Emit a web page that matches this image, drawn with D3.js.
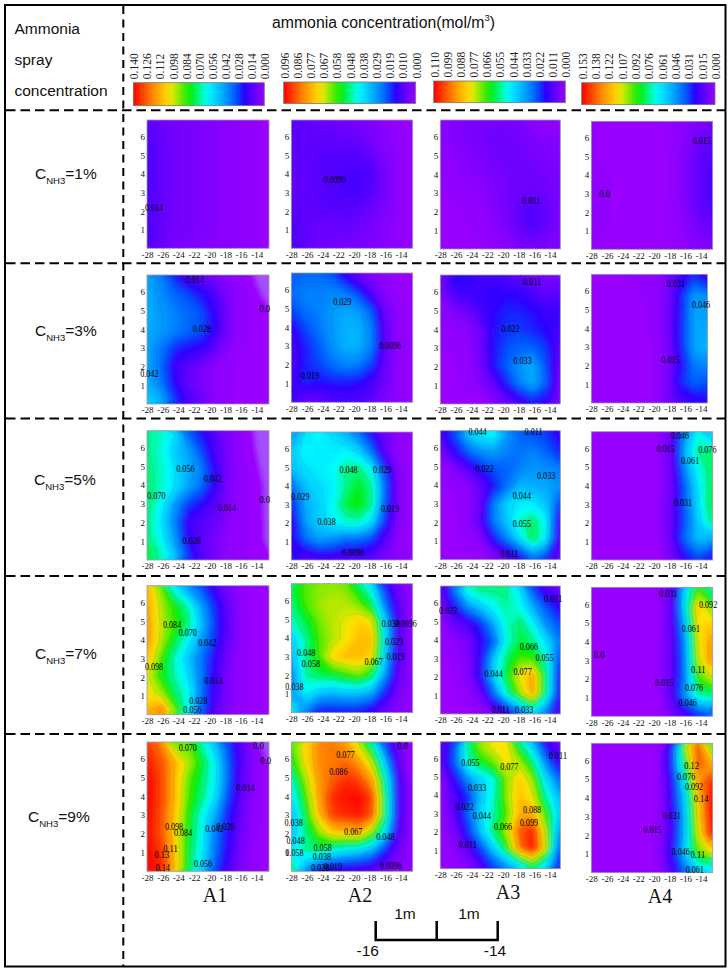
<!DOCTYPE html>
<html>
<head>
<meta charset="utf-8">
<style>
  body { margin: 0; background: #fff; }
  svg { display: block; }
  .axis text { font-family: "Liberation Serif", serif; font-size: 9px; fill: #111; }
  .axis path, .axis line { display: none; }
  .lbl { font-family: "Liberation Serif", serif; font-size: 9.5px; fill: #000; }
  .sans { font-family: "Liberation Sans", sans-serif; fill: #111; }
</style>
<script src="https://cdn.jsdelivr.net/npm/d3@7"></script>
</head>
<body>
<div id="chart"></div>
<script>
//DATA//
const columns = ["A1", "A2", "A3", "A4"];
const concentrations = ["1", "3", "5", "7", "9"];
const xTicks = [-28, -26, -24, -22, -20, -18, -16, -14];
const yTicks = [1, 2, 3, 4, 5, 6];

//legend tick labels, high to low
const legendA1 = ["0.140", "0.126", "0.112", "0.098", "0.084", "0.070", "0.056", "0.042", "0.028", "0.014", "0.000"];
const legendA2 = ["0.096", "0.086", "0.077", "0.067", "0.058", "0.048", "0.038", "0.029", "0.019", "0.010", "0.000"];
const legendA3 = ["0.110", "0.099", "0.088", "0.077", "0.066", "0.055", "0.044", "0.033", "0.022", "0.011", "0.000"];
const legendA4 = ["0.153", "0.138", "0.122", "0.107", "0.092", "0.076", "0.061", "0.046", "0.031", "0.015", "0.000"];

//concentration: 8 rows (top to bottom) x 10 columns (left to right)
const c1A1 = [
  .013, .010, .008, .007, .006, .005, .004, .003, .002, .001,
  .014, .010, .008, .007, .006, .005, .004, .003, .002, .001,
  .015, .011, .008, .007, .006, .005, .004, .003, .002, .001,
  .015, .011, .008, .007, .006, .005, .004, .003, .002, .001,
  .015, .011, .008, .007, .006, .005, .004, .003, .002, .001,
  .015, .011, .008, .007, .006, .005, .004, .003, .002, .001,
  .015, .011, .008, .007, .006, .005, .004, .003, .002, .001,
  .014, .010, .007, .006, .005, .004, .004, .003, .002, .001];
const c1A2 = [
  .009, .008, .007, .007, .006, .005, .004, .002, .001, .001,
  .009, .008, .008, .008, .008, .007, .005, .003, .002, .001,
  .009, .008, .009, .009, .010, .010, .008, .004, .002, .001,
  .008, .008, .009, .010, .011, .011, .010, .005, .002, .001,
  .008, .008, .009, .010, .011, .011, .009, .005, .002, .001,
  .009, .008, .008, .009, .009, .008, .006, .004, .002, .001,
  .010, .008, .007, .007, .007, .006, .005, .003, .002, .001,
  .010, .008, .006, .006, .005, .005, .004, .003, .002, .001];
const c1A3 = [
  .003, .004, .005, .006, .006, .006, .005, .003, .002, .002,
  .003, .004, .005, .006, .007, .007, .006, .005, .004, .003,
  .002, .003, .004, .005, .006, .007, .007, .006, .005, .004,
  .002, .002, .003, .004, .005, .006, .007, .007, .006, .005,
  .001, .002, .002, .003, .004, .006, .007, .008, .007, .005,
  .001, .001, .002, .002, .004, .006, .009, .012, .009, .005,
  .001, .001, .001, .002, .003, .005, .008, .011, .008, .005,
  .001, .001, .001, .001, .002, .003, .005, .006, .005, .004];
const c1A4 = [
  .002, .001, .001, .001, .001, .001, .002, .004, .007, .009,
  .002, .001, .001, .001, .001, .001, .002, .005, .010, .012,
  .002, .001, .001, .001, .001, .001, .002, .006, .012, .015,
  .003, .002, .001, .001, .001, .001, .002, .006, .012, .016,
  .003, .002, .001, .001, .001, .001, .002, .006, .012, .016,
  .003, .002, .001, .001, .001, .001, .002, .005, .011, .015,
  .002, .002, .001, .001, .001, .001, .002, .004, .008, .010,
  .002, .001, .001, .001, .001, .001, .002, .003, .005, .006];

const c3A1 = [
  .044, .038, .026, .016, .012, .008, .004, .002, .0005, -.003,
  .046, .040, .034, .030, .024, .016, .006, .002, .001, -.0005,
  .046, .042, .038, .034, .030, .020, .007, .002, .001, .001,
  .046, .042, .038, .034, .030, .020, .007, .002, .001, .001,
  .044, .036, .026, .022, .020, .012, .004, .002, .001, .001,
  .044, .034, .018, .012, .008, .004, .002, .001, .001, .001,
  .046, .036, .020, .011, .006, .003, .002, .001, .001, .001,
  .052, .046, .028, .016, .010, .004, .002, .001, .001, .001];
const c3A2 = [
  .022, .024, .024, .022, .014, .008, .004, .002, .001, .001,
  .024, .026, .026, .027, .026, .020, .010, .003, .001, .001,
  .020, .024, .026, .029, .031, .030, .022, .006, .002, .001,
  .014, .020, .025, .029, .032, .032, .026, .008, .002, .001,
  .012, .017, .022, .028, .032, .032, .026, .008, .002, .001,
  .010, .017, .020, .024, .027, .026, .020, .007, .002, .001,
  .012, .018, .016, .017, .017, .016, .012, .006, .002, .001,
  .014, .007, .008, .010, .011, .010, .008, .004, .002, .001];
const c3A3 = [
  .008, .017, .016, .014, .014, .012, .010, .007, .005, .006,
  .004, .012, .014, .015, .016, .017, .016, .013, .010, .011,
  .002, .004, .006, .012, .017, .020, .020, .018, .015, .015,
  .002, .002, .003, .007, .018, .021, .022, .020, .017, .013,
  .001, .002, .002, .007, .018, .024, .026, .026, .022, .010,
  .001, .001, .002, .006, .018, .026, .033, .036, .024, .008,
  .001, .001, .002, .004, .010, .020, .030, .036, .026, .006,
  .001, .001, .001, .001, .004, .008, .014, .020, .017, .005];
const c3A4 = [
  .001, .001, .001, .002, .002, .003, .008, .020, .030, .022,
  .001, .001, .001, .001, .002, .003, .008, .026, .046, .044,
  .001, .001, .001, .001, .001, .003, .008, .027, .048, .048,
  .001, .001, .001, .001, .001, .003, .008, .028, .048, .050,
  .001, .001, .001, .001, .001, .002, .007, .027, .048, .052,
  .001, .001, .001, .001, .001, .002, .006, .023, .040, .044,
  .001, .001, .001, .001, .001, .002, .008, .028, .036, .034,
  .001, .001, .001, .001, .001, .002, .008, .018, .022, .024];

const c5A1 = [
  .070, .066, .056, .034, .024, .014, .006, .002, .0003, -.004,
  .070, .064, .052, .044, .030, .016, .006, .002, .0006, -.002,
  .072, .066, .056, .046, .038, .020, .007, .002, .001, -.001,
  .072, .066, .056, .044, .034, .020, .006, .002, .001, -.0003,
  .072, .060, .042, .028, .022, .014, .005, .002, .001, -.0003,
  .070, .056, .038, .018, .014, .010, .004, .002, .001, -.0002,
  .072, .060, .042, .020, .012, .007, .003, .002, .001, -.0002,
  .076, .068, .050, .028, .014, .007, .003, .002, .001, .0005];
const c5A2 = [
  .030, .040, .042, .038, .034, .026, .016, .006, .002, .001,
  .036, .042, .040, .040, .042, .038, .026, .008, .002, .001,
  .034, .038, .040, .042, .048, .050, .042, .020, .003, .001,
  .024, .034, .038, .040, .048, .054, .048, .024, .004, .001,
  .018, .032, .036, .042, .052, .056, .048, .022, .004, .001,
  .014, .030, .036, .041, .045, .046, .038, .018, .003, .001,
  .014, .024, .030, .028, .024, .024, .020, .010, .002, .001,
  .016, .010, .012, .012, .010, .010, .009, .005, .002, .001];
const c5A3 = [
  .014, .024, .040, .046, .048, .034, .026, .024, .022, .016,
  .006, .016, .026, .032, .034, .030, .028, .030, .026, .020,
  .002, .004, .010, .018, .024, .026, .030, .033, .032, .030,
  .001, .002, .003, .008, .018, .028, .038, .036, .036, .032,
  .001, .001, .002, .008, .030, .042, .046, .046, .040, .024,
  .001, .001, .002, .010, .030, .040, .052, .058, .048, .014,
  .001, .001, .002, .004, .018, .030, .044, .060, .046, .012,
  .001, .001, .001, .001, .004, .010, .018, .030, .024, .008];
const c5A4 = [
  .001, .001, .001, .001, .001, .002, .012, .046, .070, .056,
  .001, .001, .001, .001, .001, .002, .012, .052, .076, .080,
  .001, .001, .001, .001, .001, .002, .010, .044, .068, .080,
  .001, .001, .001, .001, .001, .002, .010, .036, .062, .082,
  .001, .001, .001, .001, .001, .002, .012, .036, .060, .084,
  .001, .001, .001, .001, .001, .002, .012, .034, .056, .078,
  .001, .001, .001, .001, .001, .002, .012, .038, .054, .050,
  .001, .001, .001, .001, .001, .001, .008, .024, .034, .026];

const c7A1 = [
  .112, .088, .062, .044, .032, .018, .008, .002, .001, .001,
  .112, .094, .082, .068, .044, .026, .010, .002, .001, .001,
  .114, .096, .084, .072, .050, .028, .012, .003, .001, .001,
  .114, .094, .076, .060, .042, .026, .010, .003, .001, .001,
  .108, .084, .066, .050, .036, .020, .008, .002, .001, .001,
  .098, .080, .068, .056, .036, .018, .006, .002, .001, .001,
  .102, .094, .074, .062, .036, .016, .006, .002, .001, .001,
  .112, .122, .090, .062, .034, .014, .005, .002, .001, .001];
const c7A2 = [
  .052, .060, .063, .064, .062, .052, .040, .018, .006, .002,
  .050, .059, .064, .066, .066, .062, .052, .026, .008, .002,
  .046, .052, .061, .066, .068, .073, .070, .038, .010, .002,
  .036, .048, .059, .065, .069, .075, .075, .040, .010, .002,
  .034, .048, .058, .071, .075, .075, .071, .036, .010, .002,
  .028, .048, .052, .054, .058, .062, .054, .030, .008, .002,
  .030, .042, .036, .034, .036, .036, .032, .018, .005, .002,
  .040, .028, .018, .018, .018, .018, .014, .008, .003, .002];
const c7A3 = [
  .010, .030, .052, .056, .056, .056, .044, .024, .012, .008,
  .006, .018, .032, .040, .048, .054, .050, .036, .024, .016,
  .002, .008, .012, .020, .036, .052, .058, .048, .032, .024,
  .001, .003, .005, .016, .026, .050, .060, .056, .044, .030,
  .001, .002, .004, .016, .040, .058, .068, .066, .052, .024,
  .001, .001, .004, .016, .042, .062, .080, .090, .058, .018,
  .001, .001, .002, .008, .028, .052, .072, .090, .056, .018,
  .001, .001, .001, .002, .008, .018, .032, .048, .032, .012];
const c7A4 = [
  .001, .001, .001, .001, .001, .002, .012, .060, .096, .076,
  .001, .001, .001, .001, .001, .002, .012, .062, .120, .100,
  .001, .001, .001, .001, .001, .002, .012, .052, .112, .118,
  .001, .001, .001, .001, .001, .002, .012, .044, .108, .126,
  .001, .001, .001, .001, .001, .002, .012, .042, .104, .128,
  .001, .001, .001, .001, .001, .002, .012, .042, .092, .106,
  .001, .001, .001, .001, .001, .002, .014, .046, .074, .078,
  .001, .001, .001, .001, .001, .001, .008, .020, .032, .038];

const c9A1 = [
  .132, .122, .090, .090, .070, .052, .030, .014, .003, -.002,
  .136, .128, .112, .095, .080, .060, .034, .014, .004, .0005,
  .140, .130, .110, .088, .075, .060, .034, .012, .003, .001,
  .140, .130, .110, .086, .072, .056, .030, .012, .003, .001,
  .140, .128, .108, .082, .064, .046, .024, .010, .003, .001,
  .138, .128, .106, .080, .062, .038, .022, .008, .002, .001,
  .140, .132, .108, .078, .060, .036, .020, .007, .002, .001,
  .140, .136, .110, .078, .056, .032, .016, .006, .002, .001];
const c9A2 = [
  .060, .072, .082, .084, .080, .068, .050, .022, .006, .001,
  .056, .070, .082, .084, .086, .080, .066, .036, .008, .001,
  .046, .064, .080, .087, .092, .090, .080, .048, .012, .002,
  .040, .058, .079, .092, .095, .096, .090, .052, .012, .002,
  .034, .054, .075, .090, .092, .094, .088, .052, .012, .002,
  .034, .050, .062, .072, .074, .076, .062, .040, .010, .002,
  .040, .048, .050, .044, .040, .038, .032, .018, .006, .002,
  .050, .030, .020, .014, .014, .012, .010, .006, .003, .002];
const c9A3 = [
  .010, .024, .056, .074, .080, .080, .058, .040, .018, .008,
  .010, .026, .052, .062, .070, .080, .074, .058, .030, .014,
  .004, .016, .032, .042, .050, .072, .084, .072, .044, .028,
  .002, .012, .020, .040, .052, .072, .086, .078, .054, .038,
  .002, .010, .026, .042, .054, .068, .088, .088, .066, .042,
  .001, .006, .020, .040, .058, .074, .100, .107, .074, .034,
  .001, .003, .010, .024, .042, .064, .096, .110, .078, .026,
  .001, .002, .004, .012, .024, .034, .046, .062, .046, .020];
const c9A4 = [
  .001, .001, .001, .001, .001, .002, .024, .100, .140, .096,
  .001, .001, .001, .001, .001, .002, .030, .084, .140, .126,
  .001, .001, .001, .001, .001, .002, .022, .066, .126, .148,
  .001, .001, .001, .001, .001, .002, .020, .058, .116, .153,
  .001, .001, .001, .001, .001, .002, .018, .054, .112, .153,
  .001, .001, .001, .001, .001, .002, .018, .054, .106, .150,
  .001, .001, .001, .001, .001, .003, .022, .058, .096, .112,
  .001, .001, .001, .001, .001, .002, .016, .040, .060, .064];

const gridCols = 10;
const gridRows = 8;

//contour labels on each map: text, x, y in map units
const notesC1 = [
  [["0.014", -27.1, 2.2]],
  [["0.0096", -22.5, 3.7]],
  [["0.011", -16.4, 2.6]],
  [["0.0", -26.3, 2.97], ["0.015", -13.9, 5.85]]];
const notesC3 = [
  [["0.014", -21.9, 6.63], ["0.028", -21, 4], ["0.0", -13, 5.1], ["0.042", -27.7, 1.62]],
  [["0.029", -21.5, 5.35], ["0.0096", -15.4, 3], ["0.019", -25.6, 1.4]],
  [["0.011", -16.3, 6.55], ["0.022", -19.05, 4], ["0.033", -17.5, 2.3]],
  [["0.031", -17.2, 6.37], ["0.046", -14, 5.27], ["0.015", -17.9, 2.3]]];
const notesC5 = [
  [["0.056", -23.1, 4.86], ["0.042", -19.6, 4.34], ["0.070", -26.8, 3.43], ["0.0", -13, 3.2], ["0.014", -17.8, 2.77], ["0.028", -22.3, 1.05]],
  [["0.048", -20.7, 4.87], ["0.029", -16.4, 4.89], ["0.029", -26.85, 3.4], ["0.019", -15.4, 2.77], ["0.038", -23.5, 2.07], ["0.0096", -20.1, .4]],
  [["0.044", -23.25, 6.86], ["0.011", -16.1, 6.82], ["0.022", -22.35, 4.84], ["0.033", -14.5, 4.48], ["0.044", -17.6, 3.4], ["0.055", -17.6, 1.93], ["0.011", -19.2, .3]],
  [["0.046", -16.7, 6.7], ["0.015", -18.5, 6], ["0.076", -13.2, 5.95], ["0.061", -15.4, 5.36], ["0.031", -16.3, 3.1]]];
const notesC7 = [
  [["0.084", -24.8, 4.82], ["0.070", -22.8, 4.36], ["0.042", -20.3, 3.85], ["0.098", -27.1, 2.57], ["0.014", -19.5, 1.82], ["0.028", -21.45, .75], ["0.056", -22.2, .27]],
  [["0.038", -15.3, 4.75], ["0.0096", -13.4, 4.75], ["0.029", -14.9, 3.78], ["0.048", -26.1, 3.2], ["0.058", -25.5, 2.6], ["0.067", -17.5, 2.73], ["0.019", -14.7, 3], ["0.038", -27.6, 1.4]],
  [["0.022", -27, 5.57], ["0.011", -13.6, 6.2], ["0.066", -16.7, 3.62], ["0.055", -14.7, 3.05], ["0.077", -17.5, 2.3], ["0.044", -21.2, 2.15], ["0.011", -20.3, .23], ["0.033", -17.3, .23]],
  [["0.031", -18.2, 6.54], ["0.092", -13.1, 5.95], ["0.061", -15.3, 4.68], ["0.0", -27, 3.3], ["0.11", -14.35, 2.48], ["0.015", -18.7, 1.77], ["0.076", -14.9, 1.5], ["0.046", -15.7, .75]]];
const notesC9 = [
  [["0.070", -22.8, 6.57], ["0.0", -13.8, 6.7], ["0.0", -12.85, 5.9], ["0.014", -15.45, 4.46], ["0.098", -24.55, 2.4], ["0.084", -23.4, 2.05], ["0.042", -19.4, 2.27], ["0.028", -18, 2.4], ["0.11", -25, 1.2], ["0.13", -26.1, .9], ["0.14", -26, .2], ["0.056", -20.85, .4]],
  [["0.077", -21.1, 6.2], ["0.086", -22, 5.3], ["0.0", -13.8, 6.7], ["0.038", -27.7, 2.57], ["0.048", -27.45, 1.65], ["0.058", -27.6, 1], ["0.067", -20.1, 2.1], ["0.048", -16, 1.85], ["0.058", -24, 1.27], ["0.038", -24.1, .77], ["0.028", -24.3, .18], ["0.019", -22.7, .25], ["0.0096", -15.3, .27]],
  [["0.011", -13, 6.13], ["0.055", -24.15, 5.75], ["0.077", -19.2, 5.55], ["0.033", -23.3, 4.38], ["0.022", -24.9, 3.38], ["0.044", -22.7, 2.87], ["0.088", -16.3, 3.2], ["0.099", -16.7, 2.47], ["0.066", -20, 2.27], ["0.011", -24.5, 1.3]],
  [["0.12", -15.2, 5.68], ["0.076", -15.9, 5.14], ["0.092", -14.9, 4.6], ["0.14", -14, 3.96], ["0.031", -17.75, 3.05], ["0.015", -20.2, 2.27], ["0.046", -16.6, 1.1], ["0.11", -14.4, .96], ["0.061", -14.8, .16]]];

//LAYOUT//
const width = 728;
const height = 971;

//map boxes as [left, top, right, bottom], one row per concentration
const boxes = [
  [[147, 120, 269, 248.3], [291.3, 120, 412.7, 248.3], [440.3, 120, 560.3, 249], [591.3, 121.3, 712.7, 249.3]],
  [[147, 275, 269, 404], [291.3, 273, 412.7, 402.3], [440.3, 275, 560.3, 404], [591.3, 274.3, 707.5, 403]],
  [[147, 430.7, 269, 560], [291.3, 432, 412.7, 560], [440.3, 430.7, 560.3, 559.7], [591.3, 431.7, 712.7, 560]],
  [[147, 585.7, 269, 714.7], [291.3, 583.7, 412.7, 712.7], [440.3, 586, 560.3, 714], [591.3, 587.3, 712.7, 716.3]],
  [[147, 742, 269, 871.3], [291.3, 742, 412.7, 871.3], [440.3, 741.7, 560.3, 868.7], [591.3, 743.3, 712.7, 872.7]]
];
const grids = [
  [c1A1, c1A2, c1A3, c1A4],
  [c3A1, c3A2, c3A3, c3A4],
  [c5A1, c5A2, c5A3, c5A4],
  [c7A1, c7A2, c7A3, c7A4],
  [c9A1, c9A2, c9A3, c9A4]
];
const notes = [notesC1, notesC3, notesC5, notesC7, notesC9];
const legends = [legendA1, legendA2, legendA3, legendA4];
const legendBoxes = [[133.3, 82.7, 264.3, 105.7], [283.7, 82, 415.7, 103.5], [433.7, 81, 565.3, 102.7], [581.7, 82.7, 715, 104.7]];

//rainbow used by every map, t=0 at the low end
const rainbow = d3.scaleLinear()
  .domain([0, .15, .21, .29, .435, .57, .72, .85, 1])
  .range(["#9900ff", "#2a00ff", "#0050ff", "#0095ff", "#00ffff", "#00ee00", "#ffe600", "#ff8800", "#ff0000"])
  .clamp(true);
const belowZero = "#a64dff";

const svg = d3.select("#chart")
  .append("svg")
  .attr("width", width)
  .attr("height", height);

const defs = svg.append("defs");
defs.append("filter").attr("id", "soft")
  .append("feGaussianBlur").attr("stdDeviation", 2.4);

//FRAME//
svg.append("rect")
  .attr("x", 5).attr("y", 5)
  .attr("width", 720.5).attr("height", 961.5)
  .attr("fill", "none").attr("stroke", "#000").attr("stroke-width", 2);

[110.3, 263.3, 418.5, 576, 734].forEach(function(y) {
  svg.append("line")
    .attr("x1", 6).attr("x2", 725).attr("y1", y).attr("y2", y)
    .attr("stroke", "#000").attr("stroke-width", 2)
    .attr("stroke-dasharray", "9.5,5");
});
svg.append("line")
  .attr("x1", 123.3).attr("x2", 123.3).attr("y1", 6).attr("y2", 966)
  .attr("stroke", "#000").attr("stroke-width", 2)
  .attr("stroke-dasharray", "8,5.5");

//LEFT COLUMN//
[["Ammonia", 34], ["spray", 65], ["concentration", 96]].forEach(function(d) {
  svg.append("text").attr("class", "sans")
    .attr("x", 14.5).attr("y", d[1])
    .attr("font-size", 15.5)
    .text(d[0]);
});

const rowLabelPos = [[35, 179.3], [35, 336], [34, 485], [35, 659.3], [28, 822.3]];
concentrations.forEach(function(c, i) {
  const t = svg.append("text").attr("class", "sans")
    .attr("x", rowLabelPos[i][0]).attr("y", rowLabelPos[i][1])
    .attr("font-size", 15.5);
  t.append("tspan").text("C");
  t.append("tspan").attr("font-size", 9.5).attr("dy", 4.5).text("NH3");
  t.append("tspan").attr("dy", -4.5).text("=" + c + "%");
});

//TITLE//
const title = svg.append("text").attr("class", "sans")
  .attr("x", 272).attr("y", 28)
  .attr("font-size", 15.8);
title.append("tspan").text("ammonia concentration(mol/m");
title.append("tspan").attr("font-size", 9.5).attr("dy", -7).text("3");
title.append("tspan").attr("dy", 7).text(")");

//LEGENDS//
legends.forEach(function(labels, i) {
  const b = legendBoxes[i];
  const id = "legend" + i;
  const grad = defs.append("linearGradient").attr("id", id);
  d3.range(0, 1.001, .05).forEach(function(o) {
    grad.append("stop")
      .attr("offset", o)
      .attr("stop-color", rainbow(1 - o));
  });
  svg.append("rect")
    .attr("x", b[0]).attr("y", b[1])
    .attr("width", b[2] - b[0]).attr("height", b[3] - b[1])
    .attr("fill", "url(#" + id + ")")
    .attr("stroke", "#777").attr("stroke-width", .8);

  const pos = d3.scalePoint().domain(labels).range([b[0] + 1, b[2] + 1]);
  svg.append("g").selectAll("text")
    .data(labels)
    .enter().append("text")
    .attr("transform", function(d) { return "translate(" + pos(d) + "," + (b[1] - 3.5) + ") rotate(-90)"; })
    .attr("dy", "0.34em")
    .attr("font-family", "'Liberation Serif', serif")
    .attr("font-size", 11.5)
    .attr("fill", "#222")
    .text(function(d) { return d; });
});

//MAPS//
function drawMap(values, box, labels, maxValue, id) {
  const left = box[0], top = box[1], right = box[2], bottom = box[3];
  const boxW = right - left;

  //the tick spacing stays about 7.84px per metre, so narrower maps end sooner
  const xEnd = -28 + boxW / 7.84;
  const xScale = d3.scaleLinear().domain([-28, xEnd]).range([left, right]);
  const yScale = d3.scaleLinear().domain([0, 6.9]).range([bottom, top]);

  //grid coordinates to pixels, pushed out a little so the blur does not fade at the edge
  const gx = d3.scaleLinear().domain([0, gridCols]).range([left - 5, right + 5]);
  const gy = d3.scaleLinear().domain([0, gridRows]).range([top - 5, bottom + 5]);
  const path = d3.geoPath(d3.geoTransform({
    point: function(x, y) { this.stream.point(gx(x), gy(y)); }
  }));

  const levels = d3.range(0, 90).map(function(i) { return maxValue * i / 90; });
  const bands = d3.contours().size([gridCols, gridRows]).thresholds(levels)(values);

  defs.append("clipPath").attr("id", id)
    .append("rect")
    .attr("x", left).attr("y", top)
    .attr("width", boxW).attr("height", bottom - top);

  const g = svg.append("g").attr("clip-path", "url(#" + id + ")");
  const fills = g.append("g").attr("filter", "url(#soft)");
  fills.append("rect")
    .attr("x", left - 7).attr("y", top - 7)
    .attr("width", boxW + 14).attr("height", bottom - top + 14)
    .attr("fill", belowZero);
  fills.selectAll("path")
    .data(bands)
    .enter().append("path")
    .attr("d", path)
    .attr("fill", function(d) { return rainbow(d.value / maxValue); });

  //thin contour lines at the legend steps
  const steps = d3.range(1, 10).map(function(i) { return maxValue * i / 10; });
  g.append("g").selectAll("path")
    .data(d3.contours().size([gridCols, gridRows]).thresholds(steps)(values))
    .enter().append("path")
    .attr("d", path)
    .attr("fill", "none")
    .attr("stroke", "#333")
    .attr("stroke-opacity", .2)
    .attr("stroke-width", .5);

  svg.append("rect")
    .attr("x", left).attr("y", top)
    .attr("width", boxW).attr("height", bottom - top)
    .attr("fill", "none").attr("stroke", "#999").attr("stroke-width", .8);

  svg.append("g").attr("class", "axis")
    .attr("transform", "translate(0," + bottom + ")")
    .call(d3.axisBottom(xScale).tickValues(xTicks).tickSize(0).tickPadding(3)
      .tickFormat(function(d) { return String(d); }));

  svg.append("g").attr("class", "axis")
    .attr("transform", "translate(" + left + ",0)")
    .call(d3.axisLeft(yScale).tickValues(yTicks).tickSize(0).tickPadding(2)
      .tickFormat(function(d) { return String(d); }));

  svg.append("g").selectAll("text")
    .data(labels)
    .enter().append("text")
    .attr("class", "lbl")
    .attr("x", function(d) { return xScale(d[1]); })
    .attr("y", function(d) { return yScale(d[2]); })
    .attr("dy", "0.34em")
    .attr("text-anchor", "middle")
    .attr("textLength", function(d) { return d[0].length * 3.65; })
    .attr("lengthAdjust", "spacingAndGlyphs")
    .text(function(d) { return d[0]; });
}

grids.forEach(function(row, r) {
  row.forEach(function(values, c) {
    drawMap(values, boxes[r][c], notes[r][c], +legends[c][0], "map" + r + "_" + c);
  });
});

//COLUMN NAMES//
const columnPos = [[215, 901.7], [360, 901.7], [508, 899], [660, 902.7]];
columns.forEach(function(name, i) {
  svg.append("text")
    .attr("x", columnPos[i][0]).attr("y", columnPos[i][1])
    .attr("text-anchor", "middle")
    .attr("font-family", "'Liberation Serif', serif")
    .attr("font-size", 20)
    .attr("fill", "#111")
    .text(name);
});

//SCALE BAR//
const barScale = d3.scaleLinear().domain([-16, -14]).range([375.7, 497.7]);
svg.append("path")
  .attr("d", d3.line()([[barScale(-16), 921], [barScale(-16), 940], [barScale(-14), 940], [barScale(-14), 921]]))
  .attr("fill", "none").attr("stroke", "#000").attr("stroke-width", 2.5);
svg.append("line")
  .attr("x1", barScale(-15)).attr("x2", barScale(-15)).attr("y1", 921).attr("y2", 940)
  .attr("stroke", "#000").attr("stroke-width", 2.5);
[["1m", 405, 919], ["1m", 469, 919], ["-16", 367.7, 956], ["-14", 495, 956]].forEach(function(d) {
  svg.append("text").attr("class", "sans")
    .attr("x", d[1]).attr("y", d[2])
    .attr("text-anchor", "middle")
    .attr("font-size", 15.5)
    .text(d[0]);
});
</script>
</body>
</html>
